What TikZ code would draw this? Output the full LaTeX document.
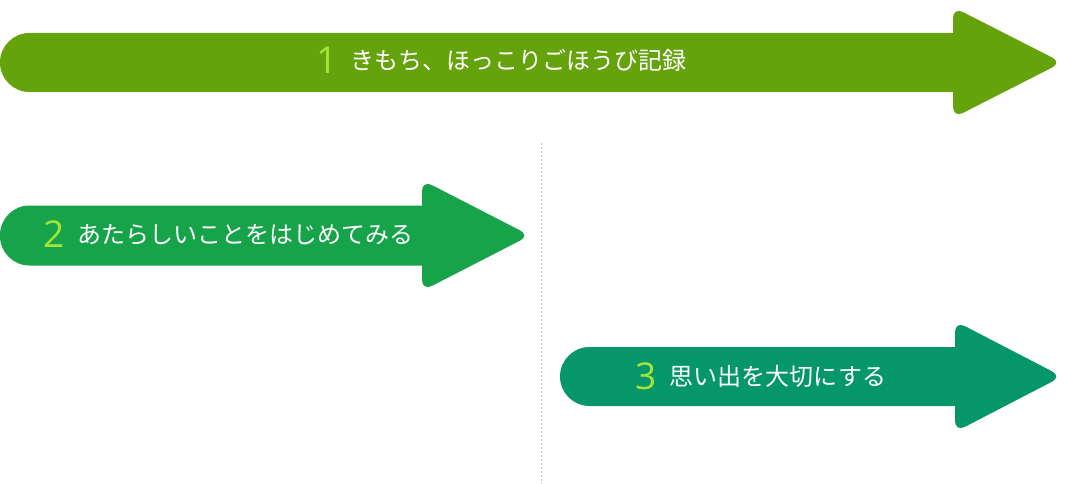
\documentclass[tikz,border=0pt]{standalone}
\usepackage{fontspec}
\setmainfont{Noto Sans CJK JP}
\newfontfamily\numfont{Open Sans}
\usepackage{tikz}
\usetikzlibrary{positioning}

\definecolor{limeArrow}{HTML}{65A30D}
\definecolor{greenArrow}{HTML}{16A34A}
\definecolor{emeraldArrow}{HTML}{059669}
\definecolor{numGreen}{HTML}{A3E635}

\begin{document}
\begin{tikzpicture}
			[x=1pt,y=-1pt,node distance=13pt,
			shaft/.style= {rounded corners=29.5pt},
			tip/.style= {rounded corners=11pt},
			num/.style= {inner sep=0pt,text=numGreen,font=\numfont\fontsize{37}{37}\selectfont},
			caption/.style= {inner sep=0pt,text=white,font=\fontsize{24}{24}\selectfont},
			sepline/.style= {draw=black!25,line width=1pt,dash pattern=on 2pt off 2pt}]
			\useasboundingbox (0,0) rectangle (1076,484);
			% separator
			\coordinate (sepTop) at (541,143);
			\coordinate (sepBot) at (541,484);
			\draw [sepline] (sepTop) -- (sepBot);
			% arrow 1
			\fill [limeArrow,shaft] (0,33) rectangle (990,92);
			\fill [limeArrow,tip] (953,7) -- (1062,62.5) -- (953,118) -- cycle;
			\node [num] (num1) at (327,60.5) {1};
			\node [caption] (cap1) [right=of num1] {きもち、ほっこりごほうび記録};
			% arrow 2
			\fill [greenArrow,shaft] (0,205.5) rectangle (460,265.5);
			\fill [greenArrow,tip] (422,180) -- (530,235.5) -- (422,291) -- cycle;
			\node [num] (num2) at (54,234.5) {2};
			\node [caption] (cap2) [right=of num2] {あたらしいことをはじめてみる};
			% arrow 3
			\fill [emeraldArrow,shaft] (560,347) rectangle (990,406);
			\fill [emeraldArrow,tip] (955,321) -- (1062,376.5) -- (955,432) -- cycle;
			\node [num] (num3) at (646,376) {3};
			\node [caption] (cap3) [right=of num3] {思い出を大切にする};
		\end{tikzpicture}
\end{document}
